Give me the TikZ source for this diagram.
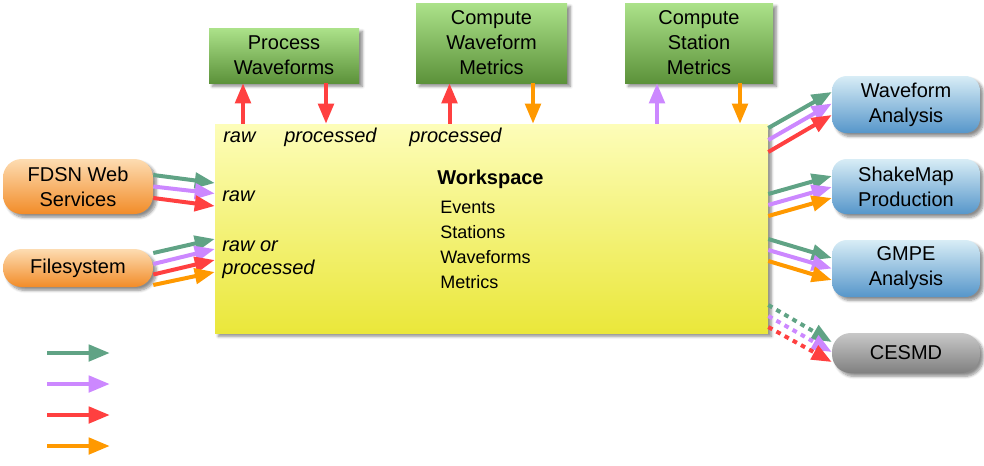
\documentclass[tikz,border=0pt]{standalone}
\usepackage{fontspec}
\setmainfont{Liberation Sans}
\usetikzlibrary{arrows.meta,calc,shadows.blur}
\definecolor{cgreen}{RGB}{96,163,133}
\definecolor{cpurple}{RGB}{204,136,255}
\definecolor{cred}{RGB}{255,64,64}
\definecolor{corange}{RGB}{255,153,0}
\begin{document}
\begin{tikzpicture}[x=0.75pt, y=-0.75pt,
    box/.style={minimum width=111pt, align=center, inner sep=0,
        font=\fontsize{15}{18.75}\selectfont,
        blur shadow={shadow xshift=2.5pt, shadow yshift=-2.5pt, shadow blur steps=6, shadow opacity=45}},
    greenbox/.style={box, top color={rgb,255:red,172;green,226;blue,138}, bottom color={rgb,255:red,92;green,146;blue,58}},
    orangebox/.style={box, rounded corners=14pt, top color={rgb,255:red,253;green,220;blue,178}, bottom color={rgb,255:red,242;green,140;blue,40}},
    bluebox/.style={box, rounded corners=11pt, top color={rgb,255:red,216;green,237;blue,246}, bottom color={rgb,255:red,86;green,150;blue,202}},
    graybox/.style={box, rounded corners=14pt, top color={rgb,255:red,200;green,200;blue,200}, bottom color={rgb,255:red,128;green,128;blue,128}},
    wsbox/.style={minimum width=414.75pt, minimum height=156.75pt,
        top color={rgb,255:red,253;green,253;blue,185}, bottom color={rgb,255:red,234;green,231;blue,58},
        blur shadow={shadow xshift=2.5pt, shadow yshift=-2.5pt, shadow blur steps=6, shadow opacity=45}},
    lbl/.style={inner sep=0, anchor=west, font=\fontsize{15}{17.5}\selectfont\itshape},
    flow/.style={line width=3pt, -{Triangle[length=15pt,width=11.5pt]}},
    dotflow/.style={flow, dash pattern=on 3.5pt off 3.5pt},
    legend/.style={line width=3.5pt, -{Triangle[length=16pt,width=12pt]}}
]
    \useasboundingbox (0,0) rectangle (984,465);

    % workspace
    \node[wsbox] (ws) at (491.5,228.5) {};
    \node[inner sep=0, anchor=west, font=\fontsize{15}{18}\selectfont\bfseries] (wsname) at (437,179) {Workspace};
    \node[inner sep=0, anchor=west, align=left, font=\fontsize{13.5}{18.75}\selectfont] (wsitems) at (440,244.5) {Events\\Stations\\Waveforms\\Metrics};

    % processing steps
    \node[greenbox, minimum width=112.5pt, minimum height=41.25pt] (pw) at (284,55.5) {Process\\Waveforms};
    \node[greenbox, minimum width=113.25pt, minimum height=60pt] (cwm) at (491.5,43) {Compute\\Waveform\\Metrics};
    \node[greenbox, minimum width=111pt, minimum height=60pt] (csm) at (699,43) {Compute\\Station\\Metrics};

    % sources
    \node[orangebox, minimum width=112.5pt, minimum height=41.25pt] (fdsn) at (78,186.5) {FDSN Web\\Services};
    \node[orangebox, minimum width=112.5pt, minimum height=28.5pt] (fs) at (78,268) {Filesystem};

    % consumers
    \node[bluebox, minimum height=42.75pt] (wa) at (906,104.5) {Waveform\\Analysis};
    \node[bluebox, minimum height=41.25pt] (smp) at (906,186.5) {ShakeMap\\Production};
    \node[bluebox, minimum height=42.75pt] (gmpe) at (906,268.5) {GMPE\\Analysis};
    \node[graybox, minimum height=30pt] (cesmd) at (906,353) {CESMD};

    % labels
    \node[lbl] (rawpw) at (223,137) {raw};
    \node[lbl] (procpw) at (284,137) {processed};
    \node[lbl] (proccwm) at (409,137) {processed};
    \node[lbl] (rawin) at (222,196.5) {raw};
    \node[lbl, align=left] (rawproc) at (222,260) {raw or\\processed};

    % top
    \coordinate (pwin) at ($(pw.south)+(-41,0)$);
    \coordinate (pwout) at ($(pw.south)+(42,0)$);
    \coordinate (cwmin) at ($(cwm.south)+(-42,0)$);
    \coordinate (cwmout) at ($(cwm.south)+(41.5,0)$);
    \coordinate (csmin) at ($(csm.south)+(-42,0)$);
    \coordinate (csmout) at ($(csm.south)+(41,0)$);
    \draw[flow, cred] (pwin |- ws.north) -- (pwin);
    \draw[flow, cred] (pwout) -- (pwout |- ws.north);
    \draw[flow, cred] (cwmin |- ws.north) -- (cwmin);
    \draw[flow, corange] (cwmout) -- (cwmout |- ws.north);
    \draw[flow, cpurple] (csmin |- ws.north) -- (csmin);
    \draw[flow, corange] (csmout) -- (csmout |- ws.north);

    % left
    \draw[flow, cgreen] ($(fdsn.east)+(0,-11.5)$) -- ($(ws.west)+(0,-45.5)$);
    \draw[flow, cpurple] ($(fdsn.east)+(0,0)$) -- ($(ws.west)+(0,-35)$);
    \draw[flow, cred] ($(fdsn.east)+(0,11.5)$) -- ($(ws.west)+(0,-22.5)$);
    \draw[flow, cgreen] ($(fs.east)+(0,-15)$) -- ($(ws.west)+(0,10.5)$);
    \draw[flow, cpurple] ($(fs.east)+(0,-4)$) -- ($(ws.west)+(0,20.5)$);
    \draw[flow, cred] ($(fs.east)+(0,6.5)$) -- ($(ws.west)+(0,31.5)$);
    \draw[flow, corange] ($(fs.east)+(0,17)$) -- ($(ws.west)+(0,43.5)$);

    % right
    \draw[flow, cgreen] ($(ws.east)+(0,-100.5)$) -- ($(wa.west)+(0,-12.5)$);
    \draw[flow, cpurple] ($(ws.east)+(0,-88.5)$) -- ($(wa.west)+(0,-1)$);
    \draw[flow, cred] ($(ws.east)+(0,-76.5)$) -- ($(wa.west)+(0,10.5)$);
    \draw[flow, cgreen] ($(ws.east)+(0,-34.5)$) -- ($(smp.west)+(0,-10.5)$);
    \draw[flow, cpurple] ($(ws.east)+(0,-23.5)$) -- ($(smp.west)+(0,0.5)$);
    \draw[flow, corange] ($(ws.east)+(0,-12.5)$) -- ($(smp.west)+(0,11.5)$);
    \draw[flow, cgreen] ($(ws.east)+(0,10.5)$) -- ($(gmpe.west)+(0,-10.5)$);
    \draw[flow, cpurple] ($(ws.east)+(0,21.5)$) -- ($(gmpe.west)+(0,0)$);
    \draw[flow, corange] ($(ws.east)+(0,32.5)$) -- ($(gmpe.west)+(0,11.5)$);
    \draw[dotflow, cgreen] ($(ws.east)+(0,76.5)$) -- ($(cesmd.west)+(0,-11)$);
    \draw[dotflow, cpurple] ($(ws.east)+(0,87.5)$) -- ($(cesmd.west)+(0,-1)$);
    \draw[dotflow, cred] ($(ws.east)+(0,98.5)$) -- ($(cesmd.west)+(0,9)$);

    % legend
    \coordinate (leg1) at (47,353);
    \coordinate (leg2) at (47,384);
    \coordinate (leg3) at (47,415);
    \coordinate (leg4) at (47,446);
    \draw[legend, cgreen] (leg1) -- ++(63,0);
    \draw[legend, cpurple] (leg2) -- ++(63,0);
    \draw[legend, cred] (leg3) -- ++(63,0);
    \draw[legend, corange] (leg4) -- ++(63,0);
\end{tikzpicture}
\end{document}
